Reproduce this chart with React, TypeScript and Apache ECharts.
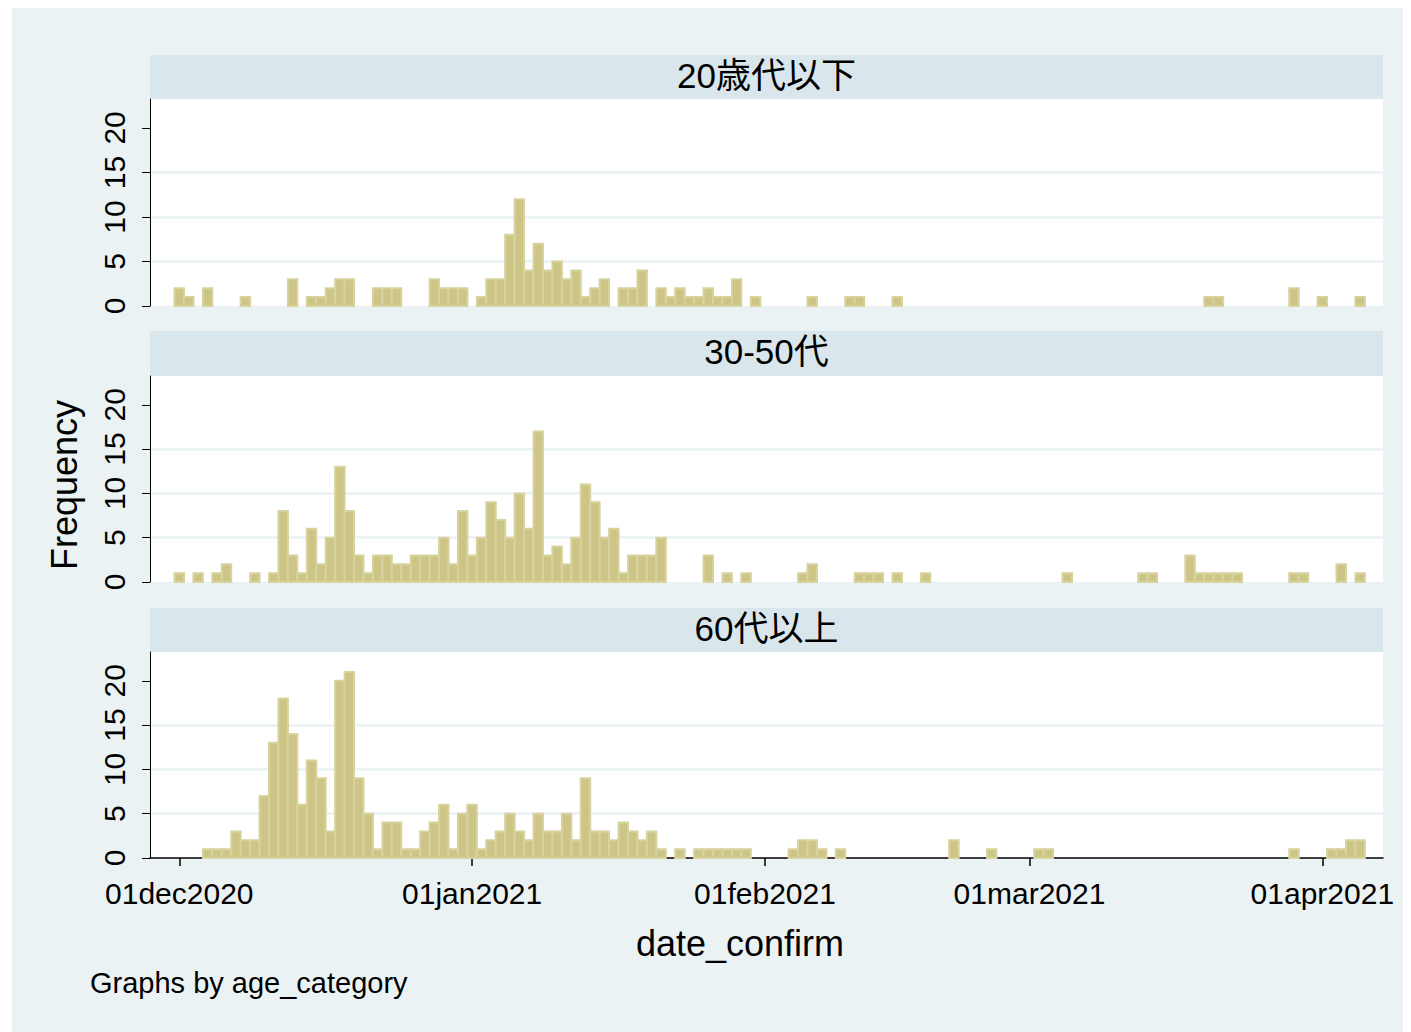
import React, { useEffect, useRef } from "react";
import * as echarts from "echarts";

const panelTitles = ["20歳代以下", "30-50代", "60代以上"];

// day index counted from 01dec2020
const youngDays = [0, 1, 3, 7, 12, 14, 15, 16, 17, 18, 21, 22, 23, 27, 28, 29, 30, 32, 33, 34, 35, 36, 37, 38, 39, 40, 41, 42, 43, 44, 45, 47, 48, 49, 51, 52, 53, 54, 55, 56, 57, 58, 59, 61, 67, 71, 72, 76, 109, 110, 118, 121, 125];
const youngCounts = [2, 1, 2, 1, 3, 1, 1, 2, 3, 3, 2, 2, 2, 3, 2, 2, 2, 1, 3, 3, 8, 12, 4, 7, 4, 5, 3, 4, 1, 2, 3, 2, 2, 4, 2, 1, 2, 1, 1, 2, 1, 1, 3, 1, 1, 1, 1, 1, 1, 1, 2, 1, 1];

const midDays = [0, 2, 4, 5, 8, 10, 11, 12, 13, 14, 15, 16, 17, 18, 19, 20, 21, 22, 23, 24, 25, 26, 27, 28, 29, 30, 31, 32, 33, 34, 35, 36, 37, 38, 39, 40, 41, 42, 43, 44, 45, 46, 47, 48, 49, 50, 51, 56, 58, 60, 66, 67, 72, 73, 74, 76, 79, 94, 102, 103, 107, 108, 109, 110, 111, 112, 118, 119, 123, 125];
const midCounts = [1, 1, 1, 2, 1, 1, 8, 3, 1, 6, 2, 5, 13, 8, 3, 1, 3, 3, 2, 2, 3, 3, 3, 5, 2, 8, 3, 5, 9, 7, 5, 10, 6, 17, 3, 4, 2, 5, 11, 9, 5, 6, 1, 3, 3, 3, 5, 3, 1, 1, 1, 2, 1, 1, 1, 1, 1, 1, 1, 1, 3, 1, 1, 1, 1, 1, 1, 1, 2, 1];

const oldDays = [3, 4, 5, 6, 7, 8, 9, 10, 11, 12, 13, 14, 15, 16, 17, 18, 19, 20, 21, 22, 23, 24, 25, 26, 27, 28, 29, 30, 31, 32, 33, 34, 35, 36, 37, 38, 39, 40, 41, 42, 43, 44, 45, 46, 47, 48, 49, 50, 51, 53, 55, 56, 57, 58, 59, 60, 65, 66, 67, 68, 70, 82, 86, 91, 92, 118, 122, 123, 124, 125];
const oldCounts = [1, 1, 1, 3, 2, 2, 7, 13, 18, 14, 6, 11, 9, 3, 20, 21, 9, 5, 1, 4, 4, 1, 1, 3, 4, 6, 1, 5, 6, 1, 2, 3, 5, 3, 2, 5, 3, 3, 5, 2, 9, 3, 3, 2, 4, 3, 2, 3, 1, 1, 1, 1, 1, 1, 1, 1, 1, 2, 2, 1, 1, 2, 1, 1, 1, 1, 1, 1, 2, 2];

const tickDays = [0, 31, 62, 90, 121];
const tickLabels = ["01dec2020", "01jan2021", "01feb2021", "01mar2021", "01apr2021"];
const yTicks = [0, 5, 10, 15, 20];

const FONT = "'Liberation Sans', 'Noto Sans CJK JP', Arial, sans-serif";
const BG = "#EAF2F3";
const STRIP = "#D9E6EB";

export default function App() {
  const ref = useRef<HTMLDivElement>(null);
  useEffect(() => {
    const chart = echarts.init(ref.current!, null, { renderer: "svg" });
    const panels = [
      { days: youngDays, counts: youngCounts },
      { days: midDays, counts: midCounts },
      { days: oldDays, counts: oldCounts },
    ];
    const gridTops = [91, 368, 644];
    const gridHeights = [207, 206, 206];
    const stripTops = [47, 323, 600];
    const stripHeights = [44, 45, 44];
    const gridLeft = 138;
    const gridWidth = 1233;

    const grids = gridTops.map((t, i) => ({
      left: gridLeft,
      top: t,
      width: gridWidth,
      height: gridHeights[i],
      show: true,
      backgroundColor: "#ffffff",
      borderWidth: 0,
    }));

    const xAxes = panels.map((_, i) => ({
      type: "value",
      gridIndex: i,
      min: -3.1,
      max: 127.42,
      axisLine: { show: i === 2, onZero: false, lineStyle: { color: "#000", width: 1.5 } },
      axisTick: {
        show: i === 2,
        customValues: tickDays,
        length: 8,
        lineStyle: { color: "#000", width: 1.5 },
      },
      axisLabel: {
        show: i === 2,
        customValues: tickDays,
        margin: 20,
        color: "#000",
        fontSize: 30,
        fontFamily: FONT,
        formatter: (v: number) => {
          const k = tickDays.indexOf(Math.round(v));
          return k >= 0 ? tickLabels[k] : "";
        },
      },
      splitLine: { show: false },
    }));

    const yAxes = panels.map((_, i) => ({
      type: "value",
      gridIndex: i,
      min: 0,
      max: 23.25,
      interval: 5,
      axisLine: { show: true, onZero: false, lineStyle: { color: "#000", width: 1 } },
      axisTick: { show: true, customValues: yTicks, length: 8, lineStyle: { color: "#000", width: 1 } },
      axisLabel: {
        customValues: yTicks,
        rotate: 90,
        margin: 21,
        color: "#000",
        fontSize: 30,
        fontFamily: FONT,
      },
      splitLine: {
        show: true,
        showMinLine: false,
        showMaxLine: false,
        lineStyle: { color: BG, width: 2.5 },
      },
    }));

    const series = panels.map((p, i) => ({
      type: "custom",
      xAxisIndex: i,
      yAxisIndex: i,
      data: p.days.map((d, k) => [d, p.counts[k]]),
      encode: { x: 0, y: 1 },
      renderItem: (params: any, api: any) => {
        const d = api.value(0);
        const c = api.value(1);
        const p0 = api.coord([d - 0.5, c]);
        const p1 = api.coord([d + 0.5, 0]);
        return {
          type: "rect",
          shape: { x: p0[0], y: p0[1], width: p1[0] - p0[0], height: p1[1] - p0[1] },
          style: { fill: "#CCC586", stroke: "#D8D29E", lineWidth: 2 },
        };
      },
    }));

    const graphic: any[] = [
      { type: "rect", z: -100, silent: true, shape: { x: 0, y: 0, width: 1391, height: 1024 }, style: { fill: BG } },
    ];
    panelTitles.forEach((t, i) => {
      graphic.push({
        type: "rect",
        shape: { x: gridLeft, y: stripTops[i], width: gridWidth, height: stripHeights[i] },
        style: { fill: STRIP },
      });
      graphic.push({
        type: "text",
        x: gridLeft + gridWidth / 2,
        y: stripTops[i] + stripHeights[i] / 2 - 2,
        style: {
          text: t,
          fill: "#000",
          font: `35px ${FONT}`,
          textAlign: "center",
          textVerticalAlign: "middle",
        },
      });
    });
    graphic.push({
      type: "text",
      x: 52,
      y: 477,
      rotation: Math.PI / 2,
      style: { text: "Frequency", fill: "#000", font: `36px ${FONT}`, textAlign: "center", textVerticalAlign: "middle" },
    });
    graphic.push({
      type: "text",
      x: 728,
      y: 935,
      style: { text: "date_confirm", fill: "#000", font: `36px ${FONT}`, textAlign: "center", textVerticalAlign: "middle" },
    });
    graphic.push({
      type: "text",
      x: 78,
      y: 975,
      style: { text: "Graphs by age_category", fill: "#000", font: `29px ${FONT}`, textAlign: "left", textVerticalAlign: "middle" },
    });

    chart.setOption({
      animation: false,
      backgroundColor: BG,
      grid: grids,
      xAxis: xAxes,
      yAxis: yAxes,
      series,
      graphic,
    });
    return () => chart.dispose();
  }, []);
  return (
    <div style={{ position: "absolute", left: 0, top: 0, width: 1411, height: 1032, background: "#fff" }}>
      <div ref={ref} style={{ position: "absolute", left: 12, top: 8, width: 1391, height: 1024 }} />
    </div>
  );
}
